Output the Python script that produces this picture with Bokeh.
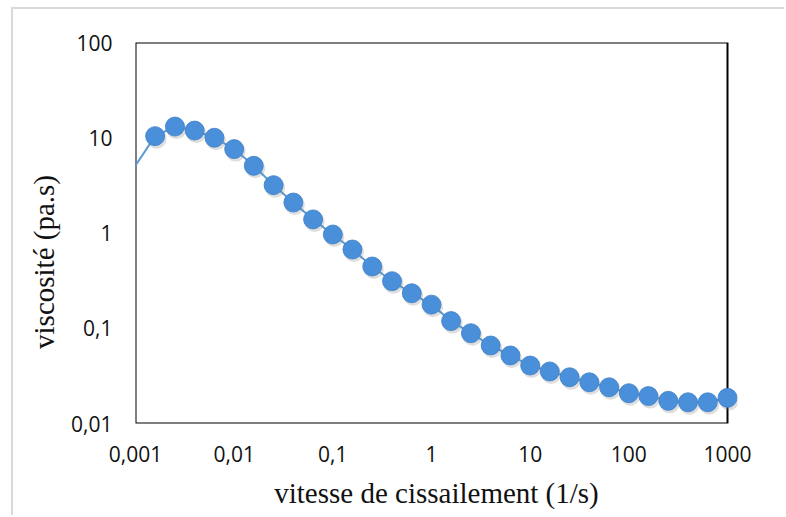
from bokeh.plotting import figure
from bokeh.models import Range1d, FixedTicker, BoxAnnotation
from bokeh.embed import file_html
from bokeh.resources import INLINE

# Shear-rate sweep: shear rate (1/s) and measured viscosity (Pa.s)
shear_rate = [0.00063, 0.00158, 0.00251, 0.00398, 0.00631, 0.01, 0.0158, 0.0251,
              0.0398, 0.0631, 0.1, 0.158, 0.251, 0.398, 0.631, 1.0, 1.58, 2.51,
              3.98, 6.31, 10.0, 15.8, 25.1, 39.8, 63.1, 100.0, 158.0, 251.0,
              398.0, 631.0, 1000.0]
viscosity = [2.5, 10.4, 13.1, 11.9, 10.0, 7.6, 5.08, 3.18, 2.09, 1.39, 0.964,
             0.671, 0.445, 0.312, 0.233, 0.177, 0.119, 0.0887, 0.0659, 0.0518,
             0.0406, 0.0352, 0.0306, 0.0271, 0.024, 0.0208, 0.0194, 0.0173,
             0.0167, 0.0167, 0.0186]

x_ticks = [0.001, 0.01, 0.1, 1, 10, 100, 1000]
x_tick_labels = ["0,001", "0,01", "0,1", "1", "10", "100", "1000"]
y_ticks = [0.01, 0.1, 1, 10, 100]
y_tick_labels = ["0,01", "0,1", "1", "10", "100"]

x_title = "vitesse de cissailement (1/s)"
y_title = "viscosité (pa.s)"

# page layout (pixels): chart area starts after a thin grey border at (11, 7)
PAGE_W, PAGE_H = 786, 517
OX, OY = 13, 9                     # canvas origin on the page (margin + border)
LEFT, TOP, BOTTOM = 135, 42, 423   # plot box on the page
AX_RIGHT = 727                     # page x where shear rate 1000 sits
FRAME_RIGHT = 737                  # frame runs a bit past 1000 so the last marker shows whole
PX_DEC_X = (AX_RIGHT - LEFT) / 6.0
PX_DEC_Y = (BOTTOM - TOP) / 4.0

W, H = PAGE_W - OX, PAGE_H - OY
x_end = 1000 * 10 ** ((FRAME_RIGHT - AX_RIGHT) / PX_DEC_X)

p = figure(width=W, height=H, x_axis_type="log", y_axis_type="log",
           x_range=Range1d(0.001, x_end), y_range=Range1d(0.01, 100),
           output_backend="svg", toolbar_location=None,
           min_border_left=LEFT - OX, min_border_top=TOP - OY,
           min_border_right=PAGE_W - FRAME_RIGHT, min_border_bottom=PAGE_H - BOTTOM,
           styles={"margin-left": "11px", "margin-top": "7px",
                   "border-left": "2px solid #d9d9d9",
                   "border-top": "2px solid #d9d9d9"})
p.outline_line_color = None
p.background_fill_color = "white"
p.border_fill_color = "white"
p.xgrid.visible = False
p.ygrid.visible = False

for ax, ticks, labels in ((p.xaxis[0], x_ticks, x_tick_labels),
                          (p.yaxis[0], y_ticks, y_tick_labels)):
    ax.ticker = FixedTicker(ticks=ticks)
    ax.major_label_overrides = {t: l for t, l in zip(ticks, labels)}
    ax.axis_line_color = None
    ax.major_tick_line_color = None
    ax.minor_tick_line_color = None
    ax.major_tick_out = 0
    ax.major_tick_in = 0
    ax.minor_tick_out = 0
    ax.minor_tick_in = 0
    ax.major_label_text_font = "Open Sans"
    ax.major_label_text_font_size = "21px"
    ax.major_label_text_color = "#111111"

p.xaxis.major_label_standoff = 22
p.yaxis.major_label_standoff = 23

for ax in (p.xaxis[0], p.yaxis[0]):
    ax.axis_label_text_font = "Liberation Serif"
    ax.axis_label_text_font_style = "normal"
    ax.axis_label_text_font_size = "29px"
    ax.axis_label_text_color = "#111111"

p.xaxis.axis_label = x_title
p.xaxis.axis_label_standoff = 12
# the vertical title sits lower than the box centre; padding keeps it there
p.yaxis.axis_label = y_title + "\u00a0" * 8
p.yaxis.axis_label_standoff = 8

# plot-area box
p.add_layout(BoxAnnotation(left=0.001, right=1000, bottom=0.01, top=100,
                           fill_color=None, line_color="black", line_alpha=1.0,
                           line_width=2, level="underlay"))

# curve
p.line(shear_rate, viscosity, line_color="#5b9bd5", line_width=2)

# soft marker shadow, nudged down-right
sh_x = [v * 10 ** (1.5 / PX_DEC_X) for v in shear_rate]
sh_y = [v / 10 ** (2.5 / PX_DEC_Y) for v in viscosity]
p.scatter(sh_x, sh_y, size=20, fill_color="#7a7a7a", fill_alpha=0.25, line_color=None)
p.scatter(shear_rate, viscosity, size=19, fill_color="#4a8fd9",
          line_color="#3d7fc8", line_width=0.8)

open("out.html", "w").write(file_html(p, INLINE))
